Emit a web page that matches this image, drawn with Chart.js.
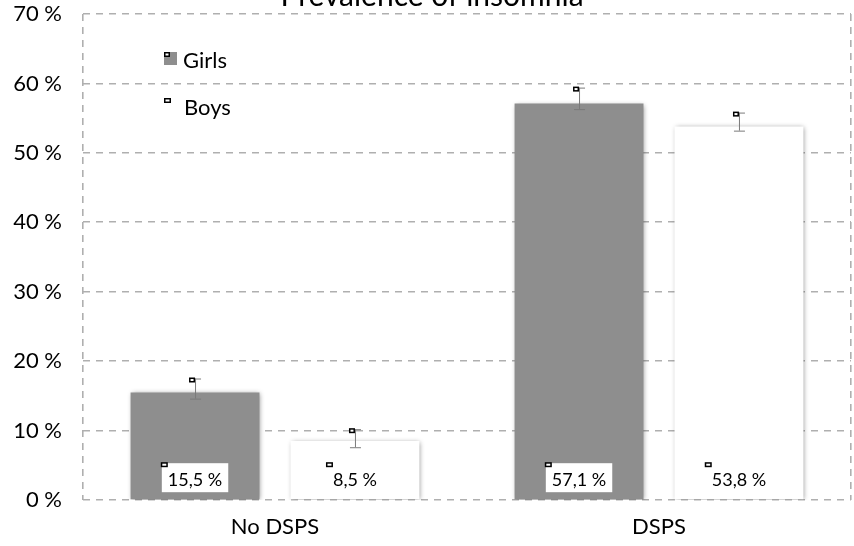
<!DOCTYPE html>
<html>
<head>
<meta charset="utf-8">
<script src="https://cdn.jsdelivr.net/npm/chart.js@4.4.1/dist/chart.umd.min.js"></script>
<style>
  body { margin: 0; background: #fff; }
  #wrap { width: 854px; height: 546px; }
</style>
</head>
<body>
<div id="wrap"><canvas id="insomniaChart" width="854" height="546"></canvas></div>
<script>
// chart values
const categories = ['No DSPS', 'DSPS'];
const girls = [15.5, 57.1];
const boys = [8.5, 53.8];
const girlsErrLow = [14.6, 56.3];
const girlsErrHigh = [17.5, 59.4];
const boysErrLow = [7.6, 53.2];
const boysErrHigh = [10.2, 55.8];
const yTicks = [0, 10, 20, 30, 40, 50, 60, 70];

const FONT = 'Lato';
const GRID = '#afafaf';

function pct(v) {
    return v.toFixed(1).replace('.', ',') + ' %';
}

// small square marks seen in the original export
function marker(ctx, x, y, w, h) {
    ctx.fillStyle = '#000';
    ctx.fillRect(x, y, w, h);
    ctx.fillStyle = '#fff';
    ctx.fillRect(x + 1.5, y + 1.5, w - 3, h - 3);
}

const shadowPlugin = {
    id: 'barShadow',
    beforeDatasetsDraw(chart) {
        const ctx = chart.ctx;
        ctx.save();
        ctx.shadowColor = 'rgba(0,0,0,0.45)';
        ctx.shadowBlur = 5;
        ctx.shadowOffsetX = 1;
        ctx.shadowOffsetY = 1;
    },
    afterDatasetsDraw(chart) {
        chart.ctx.restore();
    }
};

const extrasPlugin = {
    id: 'extras',
    afterDatasetsDraw(chart) {
        const ctx = chart.ctx;
        const y = chart.scales.y;
        const errs = [[girlsErrLow, girlsErrHigh], [boysErrLow, boysErrHigh]];

        chart.data.datasets.forEach((ds, di) => {
            const meta = chart.getDatasetMeta(di);
            meta.data.forEach((bar, i) => {
                const cx = bar.x;
                const yLo = y.getPixelForValue(errs[di][0][i]);
                const yHi = y.getPixelForValue(errs[di][1][i]);

                // error bar
                ctx.save();
                ctx.strokeStyle = '#7a7a7a';
                ctx.lineWidth = 1;
                ctx.beginPath();
                ctx.moveTo(cx + 0.5, yLo);
                ctx.lineTo(cx + 0.5, yHi);
                ctx.moveTo(cx - 5, yLo + 0.5);
                ctx.lineTo(cx + 6, yLo + 0.5);
                ctx.moveTo(cx - 5, yHi + 0.5);
                ctx.lineTo(cx + 6, yHi + 0.5);
                ctx.stroke();
                ctx.restore();
                marker(ctx, cx - 6, yHi - 1, 6, 5);

                // value label at the bottom of the bar
                const txt = pct(ds.data[i]);
                ctx.save();
                ctx.font = '18px ' + FONT;
                const tw = ctx.measureText(txt).width;
                const bw = tw + 12;
                const boxTop = bar.base - 36;
                ctx.fillStyle = '#fff';
                ctx.fillRect(cx - bw / 2, boxTop, bw, 29);
                ctx.fillStyle = '#000';
                ctx.textAlign = 'center';
                ctx.textBaseline = 'middle';
                ctx.fillText(txt, cx, bar.base - 19);
                ctx.restore();
                marker(ctx, cx - bw / 2 - 1, boxTop - 1, 7, 5);
            });
        });

        // legend
        const a = chart.chartArea;
        const lx = a.left + 81;
        ctx.save();
        ctx.fillStyle = chart.data.datasets[0].backgroundColor;
        ctx.fillRect(lx, a.top + 38, 13, 13);
        ctx.restore();
        marker(ctx, lx, a.top + 38, 6, 5);
        marker(ctx, lx, a.top + 84, 7, 5);
        ctx.save();
        ctx.font = '22px ' + FONT;
        ctx.fillStyle = '#000';
        ctx.textBaseline = 'middle';
        ctx.fillText(chart.data.datasets[0].label, lx + 19, a.top + 47);
        ctx.fillText(chart.data.datasets[1].label, lx + 20, a.top + 94);
        ctx.restore();

        // title, cut off at the top edge
        ctx.save();
        ctx.font = '30px ' + FONT;
        ctx.fillStyle = '#000';
        ctx.textAlign = 'center';
        ctx.textBaseline = 'alphabetic';
        ctx.fillText('Prevalence of insomnia', 432, 6);
        ctx.restore();
    }
};

const ctx = document.getElementById('insomniaChart').getContext('2d');
new Chart(ctx, {
    type: 'bar',
    data: {
        labels: categories,
        datasets: [{
            label: 'Girls',
            data: girls,
            backgroundColor: '#8e8e8e',
            borderWidth: 0,
            categoryPercentage: 0.833,
            barPercentage: 0.806
        }, {
            label: 'Boys',
            data: boys,
            backgroundColor: '#ffffff',
            borderWidth: 0,
            categoryPercentage: 0.833,
            barPercentage: 0.806
        }]
    },
    options: {
        responsive: false,
        animation: false,
        layout: { padding: { top: 14, right: 3, left: 0, bottom: 0 } },
        plugins: {
            legend: { display: false },
            title: { display: false },
            tooltip: { enabled: false }
        },
        scales: {
            x: {
                afterFit(scale) {
                    scale.height = 46;
                    scale.paddingLeft = 0;
                    scale.paddingRight = 0;
                },
                grid: {
                    display: true,
                    drawTicks: false,
                    offset: true,
                    lineWidth: 1.6,
                    color: c => (c.index === 1 ? 'rgba(0,0,0,0)' : GRID)
                },
                border: { display: false, dash: [7, 6] },
                ticks: {
                    font: { family: FONT, size: 22 },
                    color: '#000',
                    padding: 14
                }
            },
            y: {
                min: 0,
                max: 70,
                afterFit(scale) {
                    scale.width = 83;
                    scale.paddingTop = 0;
                    scale.paddingBottom = 0;
                },
                afterBuildTicks(scale) {
                    scale.ticks = yTicks.map(v => ({ value: v }));
                },
                grid: {
                    drawTicks: false,
                    lineWidth: 1.6,
                    color: GRID
                },
                border: { display: false, dash: [7, 6] },
                ticks: {
                    font: { family: FONT, size: 22 },
                    color: '#000',
                    padding: 21,
                    callback: v => v + ' %'
                }
            }
        }
    },
    plugins: [shadowPlugin, extrasPlugin]
});
</script>
</body>
</html>
